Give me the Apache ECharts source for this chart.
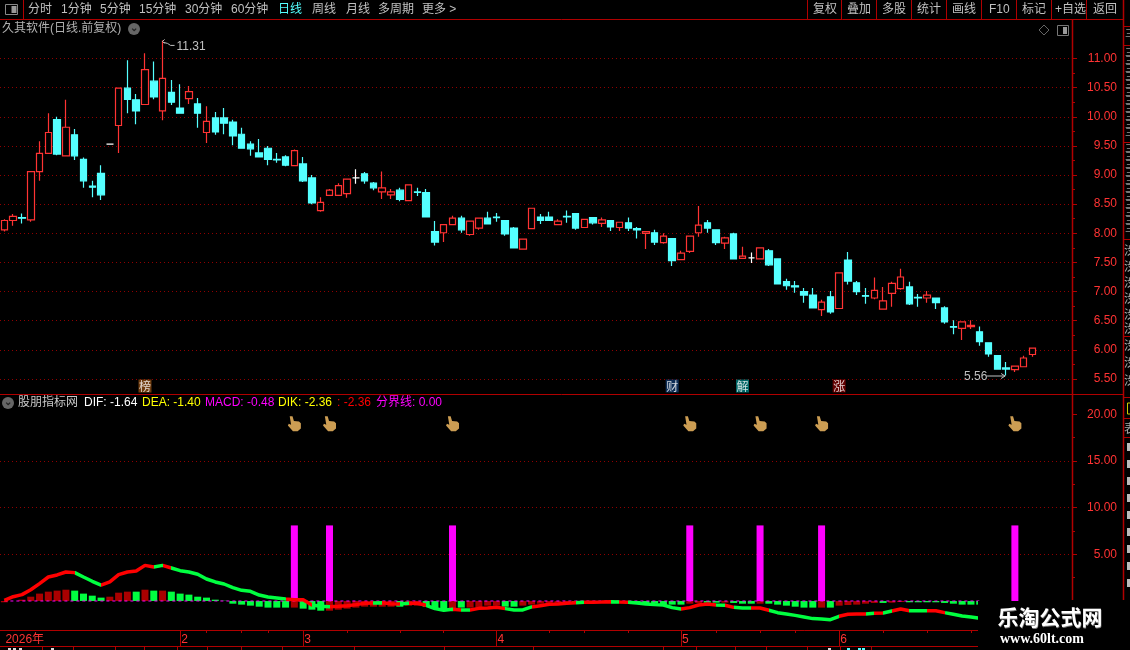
<!DOCTYPE html>
<html><head><meta charset="utf-8">
<style>html,body{margin:0;padding:0;background:#000;overflow:hidden}#c{width:1130px;height:650px}</style>
<script src="https://cdn.jsdelivr.net/npm/echarts@6/dist/echarts.min.js"></script></head>
<body><div id="c"></div>
<script>
// [open, close, low, high]
const candles = [
[8.06,8.22,8.03,8.24],[8.22,8.29,8.13,8.33],[8.27,8.26,8.17,8.34],[8.23,9.06,8.20,9.06],[9.06,9.37,8.90,9.58],
[9.37,9.73,9.37,10.06],[9.95,9.36,9.34,10.00],[9.33,9.82,9.32,10.29],[9.69,9.33,9.26,9.79],[9.27,8.90,8.78,9.30],
[8.81,8.79,8.62,8.90],[9.03,8.66,8.57,9.17],[9.53,9.53,9.53,9.53],[9.85,10.49,9.38,10.49],[10.49,10.30,10.06,10.97],
[10.29,10.10,9.87,10.39],[10.21,10.81,10.21,11.09],[10.61,10.34,10.30,10.95],[10.10,10.66,9.94,11.31],[10.42,10.25,10.20,10.63],
[10.15,10.06,10.06,10.56],[10.31,10.43,10.22,10.53],[10.22,10.06,9.81,10.32],[9.73,9.92,9.55,10.18],[9.98,9.74,9.69,10.08],
[9.98,9.89,9.70,10.15],[9.91,9.67,9.51,9.95],[9.70,9.46,9.45,9.81],[9.53,9.45,9.33,9.58],[9.38,9.31,9.31,9.62],
[9.46,9.27,9.17,9.50],[9.27,9.26,9.21,9.38],[9.31,9.17,9.15,9.34],[9.16,9.42,9.16,9.44],[9.19,8.90,8.88,9.31],
[8.95,8.52,8.50,9.00],[8.39,8.53,8.37,8.62],[8.65,8.74,8.65,8.76],[8.65,8.82,8.65,8.86],[8.68,8.93,8.61,8.93],
[8.95,8.95,8.85,9.10],[9.02,8.90,8.85,9.05],[8.86,8.78,8.74,8.88],[8.71,8.78,8.59,9.06],[8.66,8.71,8.59,8.76],
[8.74,8.58,8.55,8.78],[8.56,8.83,8.55,8.83],[8.71,8.70,8.64,8.78],[8.70,8.28,8.28,8.76],[8.03,7.85,7.79,8.21],
[8.01,8.15,7.85,8.15],[8.15,8.26,8.15,8.30],[8.26,8.06,8.01,8.30],[7.98,8.21,7.96,8.21],[8.09,8.26,8.06,8.26],
[8.26,8.16,8.16,8.37],[8.28,8.27,8.20,8.35],[8.22,7.99,7.96,8.23],[8.09,7.75,7.75,8.11],[7.73,7.90,7.73,7.90],
[8.08,8.43,8.08,8.43],[8.28,8.22,8.16,8.33],[8.28,8.22,8.22,8.37],[8.15,8.21,8.15,8.24],[8.29,8.28,8.18,8.39],
[8.34,8.09,8.06,8.34],[8.10,8.24,8.10,8.24],[8.27,8.18,8.15,8.27],[8.17,8.23,8.11,8.27],[8.22,8.11,8.04,8.22],
[8.10,8.19,8.04,8.19],[8.18,8.09,8.04,8.27],[8.08,8.06,7.91,8.11],[8.00,8.03,7.73,8.04],[8.01,7.85,7.80,8.06],
[7.84,7.95,7.82,8.00],[7.91,7.53,7.44,7.91],[7.55,7.66,7.55,7.70],[7.69,7.95,7.66,7.95],[8.01,8.14,7.94,8.47],
[8.18,8.09,8.01,8.23],[8.06,7.84,7.80,8.06],[7.83,7.92,7.73,7.94],[7.99,7.56,7.56,8.01],[7.57,7.61,7.57,7.77],
[7.58,7.58,7.49,7.67],[7.56,7.75,7.56,7.75],[7.70,7.46,7.44,7.73],[7.56,7.13,7.12,7.56],[7.17,7.10,7.03,7.22],
[7.10,7.08,6.98,7.18],[7.00,6.94,6.81,7.06],[6.94,6.72,6.72,7.06],[6.69,6.82,6.58,6.86],[6.91,6.65,6.62,7.01],
[6.71,7.32,6.71,7.32],[7.54,7.18,7.12,7.68],[7.15,7.00,6.94,7.18],[6.93,6.92,6.79,7.06],[6.89,7.02,6.87,7.24],
[6.70,6.84,6.70,7.08],[6.97,7.14,6.74,7.17],[7.05,7.25,7.03,7.39],[7.08,6.79,6.77,7.17],[6.90,6.89,6.74,6.96],
[6.89,6.94,6.81,7.01],[6.89,6.81,6.70,6.89],[6.72,6.48,6.45,6.75],[6.40,6.39,6.27,6.51],[6.37,6.48,6.17,6.48],
[6.40,6.42,6.36,6.51],[6.31,6.14,6.07,6.40],[6.12,5.93,5.88,6.12],[5.90,5.67,5.67,5.90],[5.69,5.67,5.56,5.79],
[5.66,5.72,5.62,5.73],[5.71,5.86,5.71,5.90],[5.92,6.03,5.88,6.03]];

const dikValues = [0.07,0.46,0.68,1.21,1.86,2.57,2.79,3.11,3.04,2.57,2.11,1.71,2.04,2.82,3.11,3.21,3.82,3.64,3.82,3.54,
3.25,3.11,2.86,2.36,2.04,1.82,1.43,1.14,1.04,0.64,0.43,0.32,0.21,0.14,0.14,-0.43,-0.57,-0.61,-0.57,-0.5,
-0.39,-0.25,-0.21,-0.18,-0.29,-0.32,-0.25,-0.25,-0.46,-0.82,-1.0,-0.89,-0.96,-0.96,-0.79,-0.75,-0.68,
-0.82,-0.96,-0.96,-0.64,-0.5,-0.36,-0.32,-0.25,-0.18,-0.14,-0.14,-0.11,-0.07,-0.11,-0.14,-0.21,-0.32,-0.39,-0.43,-0.71,-0.86,
-0.71,-0.43,-0.32,-0.43,-0.46,-0.68,-0.75,-0.75,-0.75,-1.0,-1.25,-1.39,-1.54,-1.71,-1.89,-1.93,-2.0,-1.64,-1.43,-1.39,-1.39,
-1.32,-1.29,-1.07,-0.86,-1.04,-1.04,-1.04,-1.04,-1.25,-1.43,-1.61,-1.71,-1.86];
// 1 = red stretch, 0 = green stretch of the DIK line
const dikTrend = [1,1,1,1,1,1,1,1,0,0,0,1,1,1,1,1,1,0,1,0,0,0,0,0,0,0,0,0,0,0,0,0,1,1,1,0,0,1,1,1,1,1,0,1,1,0,1,1,0,0,0,1,0,1,1,1,1,
0,0,0,1,1,1,1,1,0,1,1,1,0,1,0,0,0,0,0,0,1,1,1,1,0,1,0,0,1,1,0,0,0,0,0,0,0,0,1,1,1,0,1,0,1,1,0,0,1,1,0,0,0,0,0];

const macdValues = [-0.14,0,0.14,0.46,0.79,1.0,1.11,1.21,1.11,0.79,0.57,0.36,0.46,0.89,1.0,1.0,1.21,1.11,1.11,1.0,
0.79,0.68,0.46,0.36,0.14,0.03,-0.29,-0.39,-0.5,-0.61,-0.71,-0.71,-0.71,-0.71,-0.82,-0.93,-1.04,-1.04,-0.93,-0.82,
-0.71,-0.61,-0.61,-0.61,-0.61,-0.61,-0.5,-0.5,-0.61,-0.82,-0.93,-0.82,-0.71,-0.71,-0.71,-0.5,-0.5,
-0.61,-0.61,-0.5,-0.39,-0.29,-0.21,-0.21,-0.21,-0.29,-0.18,-0.11,-0.11,-0.14,-0.18,-0.29,-0.29,-0.29,-0.29,-0.39,-0.39,-0.39,
-0.29,-0.21,-0.18,-0.18,-0.18,-0.21,-0.29,-0.29,-0.29,-0.29,-0.39,-0.5,-0.61,-0.71,-0.71,-0.71,-0.71,-0.5,-0.43,-0.39,-0.29,
-0.21,-0.21,-0.18,-0.11,-0.14,-0.14,-0.14,-0.14,-0.21,-0.29,-0.39,-0.39,-0.39];
const macdTrend = [1,1,1,1,1,1,1,1,0,0,0,0,1,1,1,0,1,0,1,0,0,0,0,0,0,0,0,0,0,0,0,0,0,1,0,0,0,1,1,1,1,1,1,1,1,0,1,1,0,0,0,1,0,1,1,1,1,
0,0,1,1,1,1,1,1,0,1,0,1,0,1,0,0,0,0,0,0,0,1,1,0,0,1,0,0,0,1,0,0,0,0,0,0,1,0,1,1,1,1,1,0,1,1,0,0,0,0,0,0,0,0,0];

const signalIndices = [33,37,51,78,86,93,115];
const signalHeight = 8.1;
const handLevel = 19;
const badgeIndices = [16,76,84,95];
const badgeTexts = ['榜','财','解','涨'];
const badgeColors = ['#8A4A10','#123A6B','#008080','#7A0000'];
const badgeLevel = 5.38;
const slotCount = 122;
const monthLabels = {0:'2026年',20:'2',34:'3',56:'4',77:'5',95:'6'};
const weekTicks = [23,27,30,39,45,50,62,66,71,81,86,90,100,105,110];
const priceTicks = [5.5,6,6.5,7,7.5,8,8.5,9,9.5,10,10.5,11];
const priceMinor = [5.75,6.25,6.75,7.25,7.75,8.25,8.75,9.25,9.75,10.25,10.75];
const subTicks = [5,10,15,20];
const subGrid = [5,10,15];
const subMinor = [2.5,7.5,12.5,17.5];
const highPoint = [18,11.31];
const lowPoint = [114,5.56];

const RED='#FF3333', AXIS='#B00000', DOT='#900000', GRN='#00FF40', DRK='#AA0000', CYAN='#55FFFF', MAG='#FF00FF', GRAY='#C0C0C0';
const FONT='"Liberation Sans","Noto Sans CJK SC",sans-serif';
const categories = Array.from({length:slotCount},(_,i)=>String(i));
const macdData = macdValues.map((v,i)=>({value:v,itemStyle:{color:macdTrend[i]?DRK:GRN}}));
const signalData = categories.map((_,i)=>signalIndices.includes(i)?signalHeight:null);
const zeroLine = dikValues.map(()=>0);
const pieces=[];
for(let i=0;i<dikTrend.length;){let j=i;while(j+1<dikTrend.length&&dikTrend[j+1]===dikTrend[i])j++;
  pieces.push({gte:i-0.5,lt:j+0.5,color:dikTrend[i]?'#FF0000':GRN});i=j+1;}

const yBase=(min,max,idx)=>({type:'value',gridIndex:idx,min,max,position:'right',scale:false,axisLine:{show:false},splitLine:{show:false},axisLabel:{show:false},axisTick:{show:false}});
const chart = echarts.init(document.getElementById('c'),null,{renderer:'canvas'});
chart.setOption({
  animation:false, backgroundColor:'#000',
  grid:[{left:0,width:1072,top:19.5,height:375},{left:0,width:1072,top:395,height:235}],
  xAxis:[
    {type:'category',gridIndex:0,data:categories,show:false},
    {type:'category',gridIndex:1,data:categories,position:'bottom',
      axisLine:{show:true,onZero:false,lineStyle:{color:AXIS}},
      axisTick:{show:true,alignWithLabel:true,inside:false,length:16,lineStyle:{color:AXIS},interval:(i)=>i!==0&&monthLabels[i]!==undefined},
      axisLabel:{show:true,interval:(i)=>monthLabels[i]!==undefined,formatter:(v,i)=>monthLabels[i]||'',color:RED,fontSize:12,fontFamily:FONT,align:'left',margin:4,padding:[0,0,0,1],hideOverlap:false,verticalAlign:'top'}},
    {type:'category',gridIndex:1,data:categories,position:'bottom',
      axisLine:{show:false,onZero:false},axisLabel:{show:false},
      axisTick:{show:true,alignWithLabel:true,inside:false,length:3,lineStyle:{color:AXIS},interval:(i)=>weekTicks.includes(i)}}
  ],
  yAxis:[
    Object.assign(yBase(5.234,11.669,0),{axisTick:{show:true,length:5,lineStyle:{color:AXIS},customValues:priceTicks},
      axisLabel:{show:true,customValues:priceTicks,formatter:v=>v.toFixed(2),color:RED,fontSize:12,fontFamily:FONT,align:'right',margin:45},
      splitLine:{show:true,lineStyle:{color:DOT,type:[1,3],width:1}}}),
    Object.assign(yBase(5.234,11.669,0),{axisTick:{show:true,length:3,lineStyle:{color:AXIS},customValues:priceMinor}}),
    Object.assign(yBase(-3.11,22.08,1),{axisTick:{show:true,length:5,lineStyle:{color:AXIS},customValues:subTicks},
      axisLabel:{show:true,customValues:subTicks,formatter:v=>v.toFixed(2),color:RED,fontSize:12,fontFamily:FONT,align:'right',margin:45}}),
    Object.assign(yBase(-3.11,22.08,1),{axisTick:{show:true,length:3,lineStyle:{color:AXIS},customValues:subMinor}}),
    Object.assign(yBase(-3.11,22.08,1),{axisTick:{show:false,customValues:subGrid},splitLine:{show:true,lineStyle:{color:DOT,type:[1,3],width:1}}})
  ],
  visualMap:[{show:false,type:'piecewise',seriesIndex:3,dimension:0,pieces,outOfRange:{color:GRN}}],
  series:[
    {type:'candlestick',name:'K',xAxisIndex:0,yAxisIndex:0,data:candles,barWidth:7,
      itemStyle:{color:'#000',color0:CYAN,borderColor:RED,borderColor0:CYAN,borderColorDoji:'#fff',borderWidth:1.2}},
    {type:'bar',name:'signal',xAxisIndex:1,yAxisIndex:2,data:signalData,barWidth:7,barGap:'-100%',itemStyle:{color:MAG},z:2},
    {type:'bar',name:'MACD',xAxisIndex:1,yAxisIndex:2,data:macdData,barWidth:7,barGap:'-100%',z:3},
    {type:'line',name:'DIK',xAxisIndex:1,yAxisIndex:2,data:dikValues.map((v,i)=>[i,v]),symbol:'none',lineStyle:{width:3.5},z:6},
    {type:'line',name:'分界线',xAxisIndex:1,yAxisIndex:2,data:zeroLine,symbol:'none',lineStyle:{width:1,color:MAG,type:[3,3]},z:5},
    {type:'scatter',name:'hand',xAxisIndex:1,yAxisIndex:2,data:signalIndices.map(i=>[i,handLevel]),
      symbol:'path://M3 0 L6 0 L7.5 5 L13 5.5 L15 7.5 L15 13 L11.5 16 L6.5 16 L1 10 L2 8 L4.5 9 Z',symbolSize:[13,15],
      itemStyle:{color:'#FFC468'},z:7},
    {type:'scatter',name:'badge',xAxisIndex:0,yAxisIndex:0,symbol:'rect',symbolSize:13,z:7,
      data:badgeIndices.map((i,k)=>({value:[i,badgeLevel],itemStyle:{color:badgeColors[k]},
        label:{show:true,position:'inside',formatter:badgeTexts[k],color:'#fff',fontSize:12,fontFamily:'"Noto Sans CJK SC"'}}))}
  ]
});

const hi = chart.convertToPixel({xAxisIndex:0,yAxisIndex:0},highPoint);
const lo = chart.convertToPixel({xAxisIndex:0,yAxisIndex:0},lowPoint);
const g=[];
const line=(x1,y1,x2,y2,c,w)=>g.push({type:'line',silent:true,z:20,shape:{x1,y1,x2,y2},style:{stroke:c||AXIS,lineWidth:w||1}});
const rect=(x,y,w,h,fill,stroke)=>g.push({type:'rect',silent:true,z:20,shape:{x,y,width:w,height:h},style:{fill:fill||'transparent',stroke:stroke||null}});
const text=(x,y,s,c,o)=>g.push(Object.assign({type:'text',silent:true,z:22,x,y,style:Object.assign({text:s,fill:c||GRAY,font:'12px '+FONT,textVerticalAlign:'middle',textBaseline:'middle'},o||{})}));

// frame
line(0,19.5,1123,19.5); line(0,394.5,1123,394.5); line(0,646.5,978,646.5);
line(1072.5,19,1072.5,600,AXIS,1.5); line(1123.5,0,1123.5,600,AXIS,1.5);
// toolbar
line(23.5,0,23.5,19);
rect(5.5,4.5,12,10,'#000','#888'); rect(11.5,6,5,7,'#999');
[['分时',28],['1分钟',61],['5分钟',100],['15分钟',139],['30分钟',185],['60分钟',231],['周线',312],['月线',346],['多周期',378],['更多 >',422]].forEach(a=>text(a[1],9.5,a[0]));
text(278,9.5,'日线',CYAN);
[807,841,876,911,946,981,1016,1051,1086].forEach(x=>line(x+.5,0,x+.5,19));
[['复权',813],['叠加',847],['多股',882],['统计',917],['画线',952],['F10',989],['标记',1022],['+自选',1055],['返回',1093]].forEach(a=>text(a[1],9.5,a[0]));
text(2,29,'久其软件(日线.前复权)','#B0B0B0');
g.push({type:'circle',silent:true,z:20,shape:{cx:134,cy:29,r:6},style:{fill:'#666'}});
text(130,28.5,'⌄','#222',{font:'bold 10px '+FONT});
g.push({type:'polygon',silent:true,z:20,shape:{points:[[1044,25],[1049,30],[1044,35],[1039,30]]},style:{fill:'transparent',stroke:'#666'}});
rect(1057.5,25.5,11,10,'#000','#777'); rect(1063,27,4,7,'#999');
// indicator legend
g.push({type:'circle',silent:true,z:20,shape:{cx:8,cy:403,r:6},style:{fill:'#666'}});
text(4,402.5,'⌄','#222',{font:'bold 10px '+FONT});
[['股朋指标网',18,'#C8C8C8'],['DIF: -1.64',84,'#FFFFFF'],['DEA: -1.40',142,'#FFFF00'],['MACD: -0.48',205,MAG],['DIK: -2.36',278,'#FFFF00'],[': -2.36',337,'#FF0000'],['分界线: 0.00',376,MAG]].forEach(a=>text(a[1],402.5,a[0],a[2]));
// high / low annotations
g.push({type:'polyline',silent:true,z:21,shape:{points:[[hi[0]+2,hi[1]-1],[hi[0],hi[1]+1],[hi[0]+2,hi[1]+3]]},style:{stroke:GRAY,fill:'none'}});
g.push({type:'polyline',silent:true,z:21,shape:{points:[[hi[0]+1,hi[1]+2],[hi[0]+5,hi[1]+3],[hi[0]+8,hi[1]+5],[hi[0]+12,hi[1]+5]]},style:{stroke:GRAY,fill:'none'}});
text(hi[0]+14,hi[1]+6,highPoint[1].toFixed(2));
g.push({type:'polyline',silent:true,z:21,shape:{points:[[lo[0]-19,lo[1]+0.5],[lo[0]-1,lo[1]+0.5]]},style:{stroke:GRAY,fill:'none'}});
g.push({type:'polyline',silent:true,z:21,shape:{points:[[lo[0]-5,lo[1]-2],[lo[0]-1,lo[1]+0.5],[lo[0]-5,lo[1]+3]]},style:{stroke:GRAY,fill:'none'}});
text(lo[0]-42,lo[1]+1,lowPoint[1].toFixed(2));
// cut-off right column
[26,45,142,239,336,397,418,437].forEach(y=>line(1124,y+.5,1130,y+.5));
[33,52,60,68,76,84,92,100,108,116,124,132,148,156,164,172,180,188,196,204,212,220,228].forEach(y=>text(1125,y,'三','#999',{font:'10px "Noto Sans CJK SC"'}));
[250,266,282,298,314,328,345,362,380].forEach(y=>text(1124,y,'渋','#AAA',{font:'12px "Noto Sans CJK SC"'}));
rect(1127.5,403,6,11,'#000','#CCCC00');
text(1124,428,'表','#AAA',{font:'12px "Noto Sans CJK SC"'});
[447,464,481,498,515,532,549,566,583].forEach(y=>rect(1127,y-4,4,8,'#BBB'));
// bottom strip under the axis row
[42,73,115,144,177,207,241,282,354,444,533,663,696,735,766,807,840,871].forEach(x=>line(x+.5,646,x+.5,650));
[[8,'#DDD'],[13,'#DDD'],[19,'#DDD'],[51,'#DDD'],[828,'#DDD'],[847,CYAN],[858,CYAN],[862,CYAN]].forEach(a=>rect(a[0],648,3,2,a[1]));
// watermark
rect(978,601,152,49,'#000');
text(998,618,'乐淘公式网','#777',{font:'bold 21px "Noto Sans CJK SC"'});
text(997.5,617.5,'乐淘公式网','#FFF',{font:'bold 21px "Noto Sans CJK SC"'});
text(1000,639,'www.60lt.com','#FFF',{font:'bold 14px "Liberation Serif"'});
chart.setOption({graphic:{elements:g}});
</script></body></html>
